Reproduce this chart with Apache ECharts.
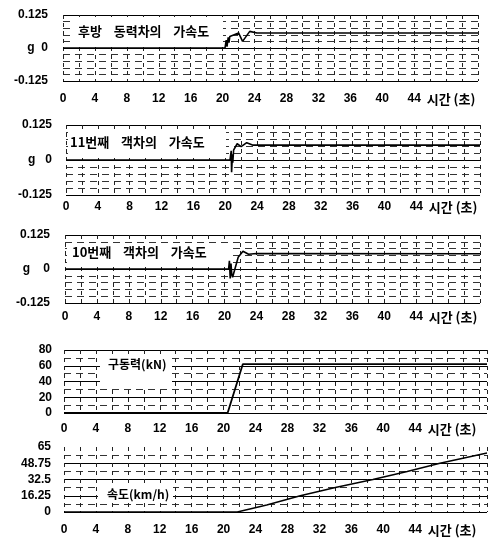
<!DOCTYPE html>
<html>
<head>
<meta charset="utf-8">
<script src="https://cdn.jsdelivr.net/npm/echarts@6/dist/echarts.min.js"></script>
<style>
html, body { margin: 0; padding: 0; background: #fff; }
#chart { width: 501px; height: 539px; }
</style>
</head>
<body>
<div id="chart"></div>
<script>
// 시간축 (초)
var timeUnit = '시간 (초)';
var lastTimeLabel = 44;

// 후방 동력차의 가속도 (g)
var rearTime = [0, 20.3, 20.45, 20.55, 20.7, 20.8, 20.9, 22.0, 22.5, 23.4, 24.3, 52];
var rearAcc  = [0, 0, 0.03, 0.005, 0.04, 0.02, 0.044, 0.057, 0.025, 0.063, 0.057, 0.057];

// 11번째 객차의 가속도 (g)
var car11Time = [0, 20.6, 20.75, 20.8, 20.9, 20.95, 21.05, 21.5, 22.0, 22.7, 23.5, 52];
var car11Acc  = [0, 0, 0.033, -0.044, 0.02, -0.01, 0.035, 0.058, 0.048, 0.062, 0.053, 0.053];

// 10번째 객차의 가속도 (g)
var car10Time = [0, 20.5, 20.6, 20.7, 20.8, 20.9, 21.0, 21.7, 22.3, 23.0, 24.0, 52];
var car10Acc  = [0, 0, 0.03, -0.035, 0.02, -0.02, -0.03, 0.043, 0.065, 0.054, 0.057, 0.056];

// 구동력 (kN)
var forceTime = [0, 20.5, 22.4, 53];
var forceVal  = [0, 0, 62, 62];

// 속도 (km/h)
var speedTime = [0, 21.7, 25.4, 29.6, 34, 38.7, 43, 47.1, 53];
var speedVal  = [0, 0, 7, 16.25, 24.5, 32.5, 40.5, 48.75, 59];

// 축 눈금
var accTicks = [-0.125, 0, 0.125];
var forceTicks = [0, 20, 40, 60, 80];
var speedTicks = [0, 16.25, 32.5, 48.75, 65];

var labels = ['후방    동력차의    가속도', '11번째    객차의    가속도', '10번째    객차의    가속도', '구동력(kN)', '속도(km/h)'];

function zip(a, b) {
  return a.map(function (v, i) { return [v, b[i]]; });
}

var numFont = 'Liberation Sans';
var krFont = 'Noto Sans CJK KR';

function xAxisFor(i, max, margin) {
  return {
    type: 'value', gridIndex: i, min: 0, max: max, interval: 4,
    axisLine: { show: false }, axisTick: { show: false },
    axisLabel: {
      margin: margin, color: '#000', fontFamily: numFont, fontSize: 12, fontWeight: 'bold',
      formatter: function (v) {
        if (v <= lastTimeLabel) return String(v);
        if (v === lastTimeLabel + 4) return '{u|' + timeUnit + '}';
        return '';
      },
      rich: { u: { fontFamily: krFont, fontSize: 13, fontWeight: 'bold', color: '#000', padding: [0, 0, 0, 10] } }
    },
    splitLine: { show: true, lineStyle: { color: '#222', width: 1, type: [4, 4] } },
    minorTick: { show: false, splitNumber: 2 },
    minorSplitLine: { show: true, lineStyle: { color: '#222', width: 1, type: [4, 4] } }
  };
}

function yAxisFor(i, ticks, minor, margin, fmt, colors) {
  return {
    type: 'value', gridIndex: i,
    min: ticks[0], max: ticks[ticks.length - 1], interval: ticks[1] - ticks[0],
    axisLine: { show: false }, axisTick: { show: false },
    axisLabel: { margin: margin, color: '#000', fontFamily: numFont, fontSize: 12, fontWeight: 'bold', formatter: fmt },
    splitLine: { show: true, lineStyle: { color: colors || '#000', width: 1 } },
    minorTick: { show: false, splitNumber: minor },
    minorSplitLine: { show: true, lineStyle: { color: '#333', width: 1, type: [7, 5] } }
  };
}

function gFmt(pad) {
  return function (v) { return v === 0 ? 'g' + pad + '0' : String(v); };
}

function lineSeries(i, t, v, w) {
  return {
    type: 'line', xAxisIndex: i, yAxisIndex: i, data: zip(t, v),
    showSymbol: false, silent: true, z: 5,
    lineStyle: { color: '#000', width: w }
  };
}

function note(x, y, w, h, tx, ty, text, size) {
  return [
    { type: 'rect', z: 100, shape: { x: x, y: y, width: w, height: h }, style: { fill: '#fff' } },
    { type: 'text', z: 101, x: tx, y: ty,
      style: { text: text, fill: '#000', font: 'bold ' + size + 'px "' + krFont + '"',
               textVerticalAlign: 'middle', textBaseline: 'middle' } }
  ];
}

var chart = echarts.init(document.getElementById('chart'));
chart.setOption({
  animation: false,
  backgroundColor: '#fff',
  grid: [
    { left: 63, right: 23, top: 15, height: 66 },
    { left: 66, right: 21, top: 125, height: 70 },
    { left: 65, right: 21, top: 235, height: 68 },
    { left: 64, right: 14, top: 350, height: 63 },
    { left: 64, right: 14, top: 447, height: 65 }
  ],
  xAxis: [
    xAxisFor(0, 52, 12),
    xAxisFor(1, 52, 6),
    xAxisFor(2, 52, 8),
    xAxisFor(3, 53, 10),
    xAxisFor(4, 53, 12)
  ],
  yAxis: [
    yAxisFor(0, accTicks, 5, 15, gFmt('  ')),
    yAxisFor(1, accTicks, 5, 14, gFmt('   ')),
    yAxisFor(2, accTicks, 5, 15, gFmt('    ')),
    yAxisFor(3, forceTicks, 2, 12),
    yAxisFor(4, speedTicks, 2, 13, null, ['#000', '#000', '#000', '#000', 'rgba(0,0,0,0)'])
  ],
  series: [
    lineSeries(0, rearTime, rearAcc, 1.6),
    lineSeries(1, car11Time, car11Acc, 1.6),
    lineSeries(2, car10Time, car10Acc, 1.6),
    lineSeries(3, forceTime, forceVal, 1.8),
    lineSeries(4, speedTime, speedVal, 1.3)
  ],
  graphic: [].concat(
    note(71, 17, 152, 29, 78, 31, labels[0], 13),
    note(68, 132, 158, 26, 70, 142, labels[1], 13),
    note(67, 243, 161, 24, 72, 252, labels[2], 13),
    note(100, 357, 72, 30, 108, 364, labels[3], 12),
    note(98, 486, 75, 16, 107, 494, labels[4], 12)
  )
});
</script>
</body>
</html>
